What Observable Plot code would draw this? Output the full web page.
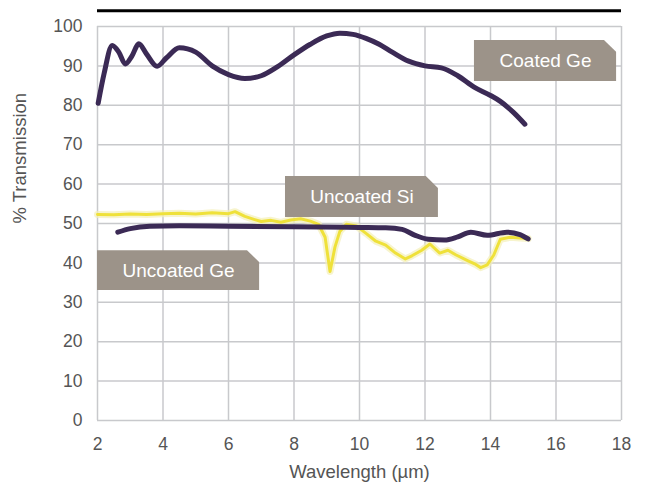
<!DOCTYPE html>
<html><head><meta charset="utf-8">
<script src="https://cdn.jsdelivr.net/npm/d3@7"></script>
<script src="https://cdn.jsdelivr.net/npm/@observablehq/plot@0.6"></script>
<style>body{margin:0;background:#fff;}</style>
</head><body><div id="chart"></div>
<script>
const xTicks = [2, 4, 6, 8, 10, 12, 14, 16, 18];
const yTicks = [0, 10, 20, 30, 40, 50, 60, 70, 80, 90, 100];

const coatedGeX = [2.02, 2.2, 2.45, 2.65, 2.85, 3.05, 3.26, 3.5, 3.82, 4.1, 4.5, 5.0, 5.5, 6.0, 6.5, 7.0, 7.5, 8.0, 8.5, 9.0, 9.4, 9.8, 10.2, 10.6, 11.0, 11.5, 12.0, 12.5, 13.0, 13.5, 14.0, 14.3, 14.7, 15.05];
const coatedGeY = [80.5, 88, 95.2, 93.5, 90.5, 92.5, 95.6, 93, 89.9, 92, 94.6, 93.5, 90, 87.8, 86.8, 87.5, 89.8, 92.8, 95.5, 97.6, 98.3, 98, 97, 95.5, 93.5, 91.2, 90, 89.5, 87.5, 84.6, 82.5, 81, 78.2, 75.2];

const uncoatedGeX = [2.62, 3.0, 3.6, 4.5, 6, 8, 10, 10.8, 11.3, 11.7, 12.1, 12.6, 13.0, 13.4, 13.9, 14.5, 14.9, 15.15];
const uncoatedGeY = [47.8, 48.7, 49.3, 49.4, 49.3, 49.2, 49.0, 48.9, 48.5, 47, 46, 45.8, 46.6, 47.8, 47, 47.8, 47.2, 46.1];

const uncoatedSiX = [2.0, 2.5, 3.0, 3.5, 4.0, 4.5, 5.0, 5.5, 6.0, 6.2, 6.5, 6.8, 7.0, 7.3, 7.6, 7.9, 8.2, 8.5, 8.75, 8.95, 9.1, 9.25, 9.4, 9.6, 9.9, 10.2, 10.5, 10.8, 11.1, 11.4, 11.6, 11.9, 12.15, 12.45, 12.7, 12.95, 13.3, 13.55, 13.7, 13.9, 14.1, 14.3, 14.6, 14.9, 15.15];
const uncoatedSiY = [52.3, 52.2, 52.4, 52.3, 52.5, 52.6, 52.4, 52.7, 52.5, 53.0, 51.8, 51.0, 50.5, 50.8, 50.3, 50.9, 51.2, 50.6, 49.8, 46.5, 37.8, 44, 48, 49.8, 49.4, 47.5, 45.5, 44.5, 42.5, 41.0, 41.8, 43.2, 44.8, 42.5, 43.2, 42, 40.6, 39.6, 38.8, 39.5, 42, 46, 46.5, 46.3, 46.2];

const labelText = ["Coated Ge", "Uncoated Si", "Uncoated Ge"];
const labelX1 = [13.51, 7.74, 2.0];
const labelX2 = [17.85, 12.41, 6.95];
const labelTop = [96.45, 61.9, 43.1];
const labelBottom = [86.04, 51.5, 33.0];
const cutX = 0.37, cutY = 3.0;

const rows = (xs, ys) => xs.map((x, i) => ({x, y: ys[i]}));
const coatedGe = rows(coatedGeX, coatedGeY);
const uncoatedGe = rows(uncoatedGeX, uncoatedGeY);
const uncoatedSi = rows(uncoatedSiX, uncoatedSiY);

const labels = labelText.map((t, i) => ({label: t, x1: labelX1[i], x2: labelX2[i], t: labelTop[i], b: labelBottom[i]}));
const boxPts = labels.flatMap(d => [
  {label: d.label, x: d.x1, t: d.t, b: d.b},
  {label: d.label, x: d.x2 - cutX, t: d.t, b: d.b},
  {label: d.label, x: d.x2, t: d.t - cutY, b: d.b}
]);

const gridStyle = {stroke: "#c8c9cc", strokeOpacity: 1, strokeWidth: 1.5};

const chart = Plot.plot({
  width: 647, height: 486,
  marginLeft: 97, marginRight: 26, marginTop: 26, marginBottom: 66,
  x: {domain: [2, 18]},
  y: {domain: [0, 100]},
  style: {fontFamily: "'Liberation Sans', Arial, sans-serif", fontSize: "17px", color: "#555", background: "#fff"},
  marks: [
    Plot.gridX(xTicks, gridStyle),
    Plot.gridY(yTicks, gridStyle),
    Plot.axisX(xTicks, {tickSize: 0, tickPadding: 17, label: null, fill: "#555", fontSize: 17.5}),
    Plot.axisY(yTicks, {tickSize: 0, tickPadding: 15, label: null, fill: "#555", fontSize: 17.5}),
    Plot.ruleY([104], {stroke: "#000", strokeWidth: 3}),
    Plot.text(["Wavelength (µm)"], {text: d => d, frameAnchor: "bottom", dy: 57, fill: "#555", fontSize: 18.5}),
    Plot.text(["% Transmission"], {text: d => d, frameAnchor: "left", dx: -77, rotate: -90, fill: "#555", fontSize: 18.5}),
    Plot.line(uncoatedSi, {x: "x", y: "y", stroke: "#f4efb8", strokeWidth: 7, strokeOpacity: 0.7}),
    Plot.line(uncoatedSi, {x: "x", y: "y", stroke: "#efe13a", strokeWidth: 3}),
    Plot.line(uncoatedGe, {x: "x", y: "y", stroke: "#3b2a55", strokeWidth: 5, curve: "monotone-x"}),
    Plot.line(coatedGe, {x: "x", y: "y", stroke: "#3b2a55", strokeWidth: 5, curve: "monotone-x"}),
    Plot.areaY(boxPts, {x: "x", y1: "b", y2: "t", z: "label", fill: "#9c9389", curve: "linear"}),
    Plot.text(labels, {x: d => (d.x1 + d.x2) / 2, y: d => (d.t + d.b) / 2, text: "label", fill: "#fff", fontSize: 19})
  ]
});
document.getElementById("chart").append(chart);
</script>
</body></html>
